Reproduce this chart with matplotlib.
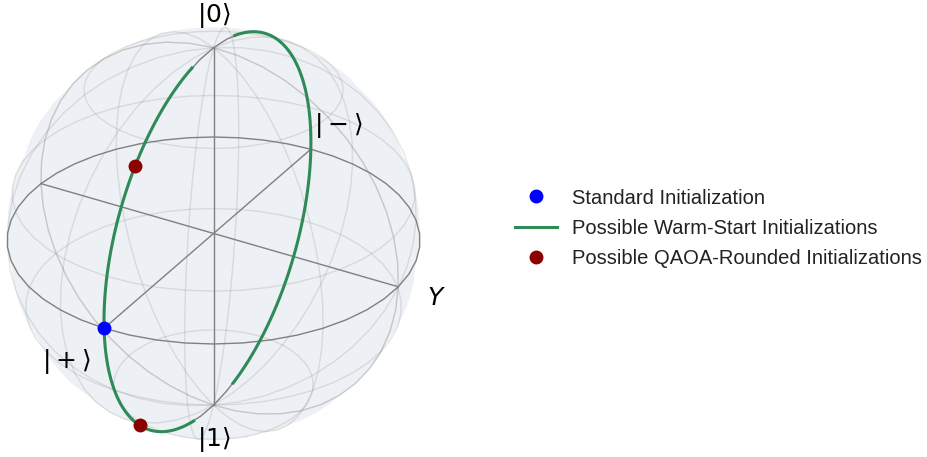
import numpy as np
import matplotlib
matplotlib.use("Agg")
import matplotlib.pyplot as plt
from matplotlib.lines import Line2D

plt.rcParams["font.family"] = ["Liberation Sans", "DejaVu Sans"]

# Bloch-sphere states: theta measured from |0>, phi from +x
standard_theta = [np.pi / 2]
standard_phi = [0.0]
rounded_theta = [np.pi / 4, 3 * np.pi / 4]
rounded_phi = [0.0, 0.0]

# warm-start arcs in the x-z plane (regularised, so the poles are left out)
warm_theta_start = [0.2, 0.2]
warm_theta_end = [np.pi - 0.2, np.pi - 0.2]
warm_phi = [0.0, np.pi]

x_labels = [r"$|+\rangle$", r"$|-\rangle$"]
y_labels = ["", r"$Y$"]
z_labels = [r"$|0\rangle$", r"$|1\rangle$"]

legend_labels = ["Standard Initialization",
                 "Possible Warm-Start Initializations",
                 "Possible QAOA-Rounded Initializations"]

SPHERE_COLOR = "#d0d8e3"
FRAME_COLOR = "gray"
STANDARD_COLOR = "blue"
WARM_COLOR = "#2e8b57"
ROUNDED_COLOR = "#8b0000"


def to_mpl(theta, phi):
    # qutip convention: bloch (x, y, z) -> matplotlib (y, -x, z)
    theta = np.asarray(theta)
    phi = np.asarray(phi)
    bx = np.sin(theta) * np.cos(phi)
    by = np.sin(theta) * np.sin(phi)
    bz = np.cos(theta)
    return by, -bx, bz


def draw_half(ax, u):
    v = np.linspace(0, np.pi, 25)
    x = np.outer(np.cos(u), np.sin(v))
    y = np.outer(np.sin(u), np.sin(v))
    z = np.outer(np.ones(np.size(u)), np.cos(v))
    ax.plot_surface(x, y, z, rstride=2, cstride=2, color=SPHERE_COLOR,
                    linewidth=0, alpha=0.2, shade=False)
    ax.plot_wireframe(x, y, z, rstride=5, cstride=5, color=FRAME_COLOR,
                      alpha=0.2, linewidth=1)
    ax.plot(np.cos(u), np.sin(u), zs=0, zdir="z", lw=1, color=FRAME_COLOR)
    ax.plot(np.cos(u), np.sin(u), zs=0, zdir="x", lw=1, color=FRAME_COLOR)


fig = plt.figure(figsize=(9.28, 4.57), dpi=100)
size = 485
ax = fig.add_axes([(207 - size / 2) / 928, (217 - size / 2) / 457,
                   size / 928, size / 457], projection="3d")
ax.computed_zorder = False
ax.view_init(elev=30, azim=-60)
ax.set_box_aspect((1, 1, 1))
ax.axis("off")
lim = 0.7
ax.set_xlim3d(-lim, lim)
ax.set_ylim3d(-lim, lim)
ax.set_zlim3d(-lim, lim)

# back half, axes, front half
draw_half(ax, np.linspace(0, np.pi, 25))
span = np.linspace(-1.0, 1.0, 2)
ax.plot(span, 0 * span, zs=0, zdir="z", lw=1, color=FRAME_COLOR)
ax.plot(0 * span, span, zs=0, zdir="z", lw=1, color=FRAME_COLOR)
ax.plot(0 * span, span, zs=0, zdir="y", lw=1, color=FRAME_COLOR)
draw_half(ax, np.linspace(-np.pi, 0, 25))

# axis labels
opts = dict(fontsize=18, color="black", ha="center", va="center")
ax.text(0, -1.32, 0, x_labels[0], **opts)
ax.text(0, 1.3, 0, x_labels[1], **opts)
ax.text(-1.2, 0, 0, y_labels[0], **opts)
ax.text(1.2, 0, 0, y_labels[1], **opts)
ax.text(0, 0, 1.165, z_labels[0], **opts)
ax.text(0, 0, -1.21, z_labels[1], **opts)

# warm-start arcs
for t0, t1, ph in zip(warm_theta_start, warm_theta_end, warm_phi):
    t = np.linspace(t0, t1, 120)
    xs, ys, zs = to_mpl(t, np.full_like(t, ph))
    ax.plot(xs, ys, zs, color=WARM_COLOR, lw=2.2, zorder=4)

# points
xs, ys, zs = to_mpl(rounded_theta, rounded_phi)
ax.scatter(xs, ys, zs, s=100, color=ROUNDED_COLOR, depthshade=False,
           linewidth=0, zorder=6)
xs, ys, zs = to_mpl(standard_theta, standard_phi)
ax.scatter(xs, ys, zs, s=100, color=STANDARD_COLOR, depthshade=False,
           linewidth=0, zorder=6)

handles = [
    Line2D([], [], marker="o", ls="", color=STANDARD_COLOR, markersize=9),
    Line2D([], [], color=WARM_COLOR, lw=2.2),
    Line2D([], [], marker="o", ls="", color=ROUNDED_COLOR, markersize=9),
]
fig.legend(handles, legend_labels, loc="center left",
           bbox_to_anchor=(497 / 928, 0.5), frameon=False, fontsize=14.5,
           handlelength=2.08, handletextpad=0.75, labelspacing=0.57,
           labelcolor="#222222")

plt.savefig("out.png", dpi=100)
